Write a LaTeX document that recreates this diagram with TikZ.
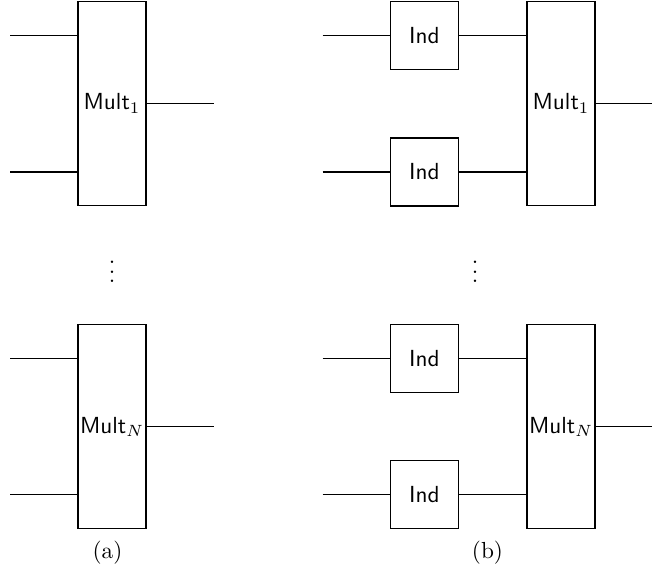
\documentclass[tikz,border=0pt]{standalone}
\usetikzlibrary{positioning}
\begin{document}
\begin{tikzpicture}[x=0.43pt,y=-0.43pt,
  wire/.style={draw,line width=0.45pt},
  multbox/.style={draw,line width=0.45pt,minimum width=29.24pt,minimum height=87.72pt,inner sep=0pt},
  indbox/.style={draw,line width=0.45pt,minimum width=29.24pt,minimum height=29.24pt,inner sep=0pt},
  caption/.style={inner sep=0pt,font=\normalsize}]
\useasboundingbox (0,0) rectangle (652,571);

% ---------- (a): plain multipliers ----------
\node[multbox] (ma1) at (112,103.5) {$\textsf{Mult}_1$};
\coordinate (ia1) at (10,35.5);
\coordinate (ia2) at (10,172);
\coordinate (oa1) at (214,103.5);
\draw[wire] (ia1) -- (ia1 -| ma1.west);
\draw[wire] (ia2) -- (ia2 -| ma1.west);
\draw[wire] (ma1.east) -- (oa1);

\node[inner sep=0pt] (dotsa) at (112,265) {$\vdots$};

\node[multbox] (maN) at (112,426.7) {$\textsf{Mult}_N$};
\coordinate (ia3) at (10,358.7);
\coordinate (ia4) at (10,494.7);
\coordinate (oa2) at (214,426.7);
\draw[wire] (ia3) -- (ia3 -| maN.west);
\draw[wire] (ia4) -- (ia4 -| maN.west);
\draw[wire] (maN.east) -- (oa2);

\node[caption] (capa) at (107.5,552.5) {(a)};

% ---------- (b): multipliers fed through Ind blocks ----------
\node[multbox] (mb1) at (561,103.5) {$\textsf{Mult}_1$};
\node[indbox] (ib1) at (424.5,35.5) {\textsf{Ind}};
\node[indbox] (ib2) at (424.5,172) {\textsf{Ind}};
\coordinate (jb1) at (322.7,35.5);
\coordinate (jb2) at (322.7,172);
\coordinate (ob1) at (652,103.5);
\draw[wire] (jb1) -- (ib1.west);
\draw[wire] (jb2) -- (ib2.west);
\draw[wire] (ib1.east) -- (ib1.east -| mb1.west);
\draw[wire] (ib2.east) -- (ib2.east -| mb1.west);
\draw[wire] (mb1.east) -- (ob1);

\node[inner sep=0pt] (dotsb) at (475,265) {$\vdots$};

\node[multbox] (mbN) at (561,426.7) {$\textsf{Mult}_N$};
\node[indbox] (ib3) at (424.5,358.7) {\textsf{Ind}};
\node[indbox] (ib4) at (424.5,494.7) {\textsf{Ind}};
\coordinate (jb3) at (322.7,358.7);
\coordinate (jb4) at (322.7,494.7);
\coordinate (ob2) at (652,426.7);
\draw[wire] (jb3) -- (ib3.west);
\draw[wire] (jb4) -- (ib4.west);
\draw[wire] (ib3.east) -- (ib3.east -| mbN.west);
\draw[wire] (ib4.east) -- (ib4.east -| mbN.west);
\draw[wire] (mbN.east) -- (ob2);

\node[caption] (capb) at (487.5,552.5) {(b)};
\end{tikzpicture}
\end{document}
